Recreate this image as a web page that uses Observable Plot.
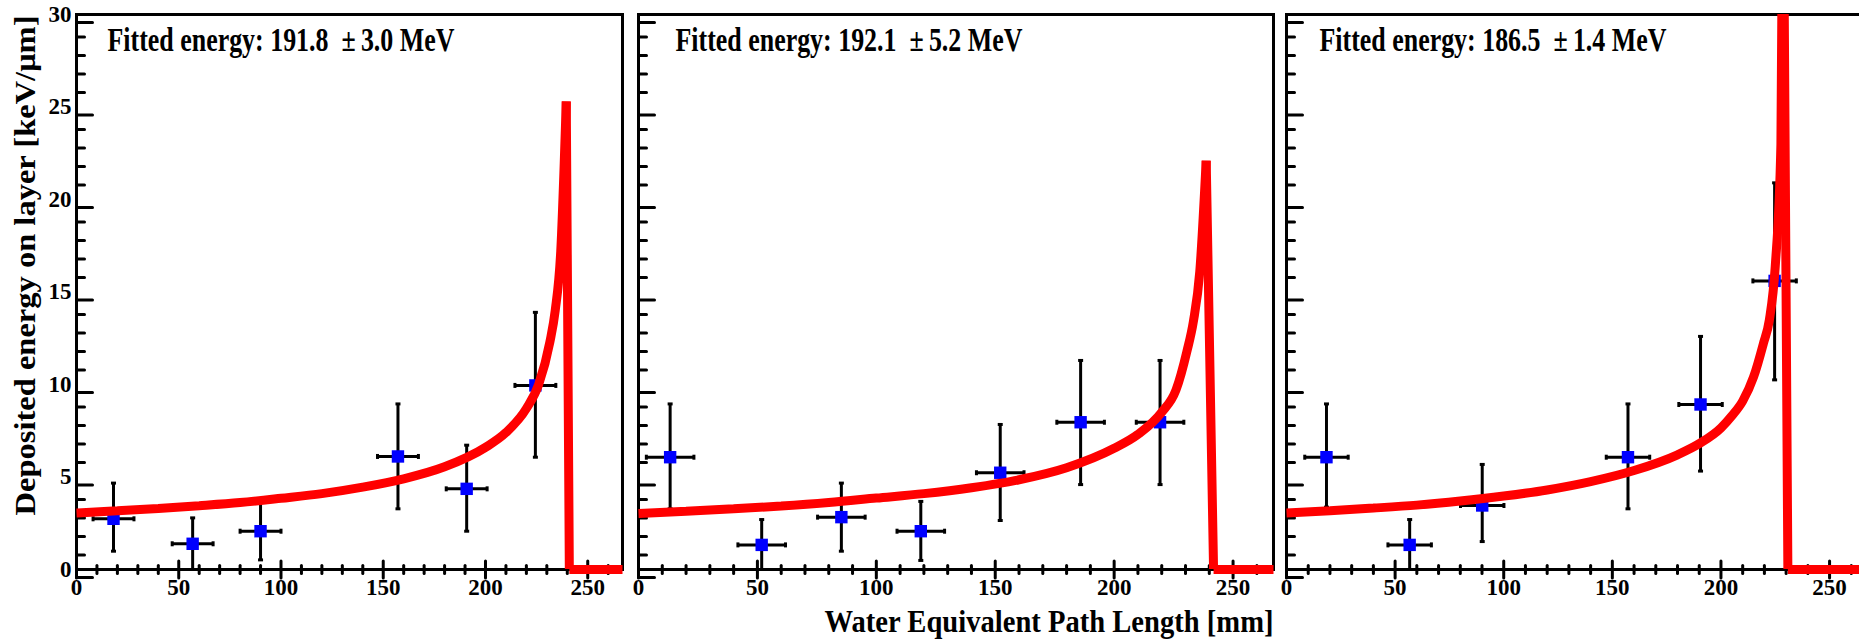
<!DOCTYPE html>
<html>
<head>
<meta charset="utf-8">
<script src="https://cdn.jsdelivr.net/npm/d3@7"></script>
<script src="https://cdn.jsdelivr.net/npm/@observablehq/plot@0.6"></script>
<style>
html, body { margin: 0; padding: 0; background: #fff; }
#chart { position: relative; width: 1859px; height: 641px; overflow: hidden; background: #fff; }
#chart svg { position: absolute; top: 0; }
</style>
</head>
<body>
<div id="chart"></div>
<script>
// ---------- tick labels ----------
const xTicks = [0, 50, 100, 150, 200, 250];
const yTicks = [0, 5, 10, 15, 20, 25, 30];
const xDomain = [0, 267];
const yDomain = [0, 30];

// ---------- titles ----------
const yTitle = "Deposited energy on layer [keV/\u03bcm]";
const xTitle = "Water Equivalent Path Length [mm]";
const panelLabels = [
  "Fitted energy: 191.8\u00a0\u00a0\u00b1\u20093.0 MeV",
  "Fitted energy: 192.1\u00a0\u00a0\u00b1\u20095.2 MeV",
  "Fitted energy: 186.5\u00a0\u00a0\u00b1\u20091.4 MeV"
];

// ---------- panel 1 data ----------
const p1X   = [18.1, 56.8, 90.0, 157.2, 190.8, 224.4];
const p1Y   = [2.74, 1.39, 2.07, 6.11, 4.36, 9.95];
const p1Lo  = [0.99, 0.0, 0.52, 3.28, 2.07, 6.07];
const p1Hi  = [4.67, 2.79, 3.62, 8.95, 6.72, 13.9];
const p1Ex  = [10, 10, 10, 10, 10, 10];
const fit1X = [0, 20, 40, 60, 80, 100, 120, 140, 160, 180, 200, 210, 220, 226, 231.5, 234.1, 236.8, 239.5, 241, 267];
const fit1Y = [3.05, 3.17, 3.3, 3.45, 3.62, 3.85, 4.1, 4.45, 4.9, 5.55, 6.6, 7.4, 8.7, 10.0, 12.3, 14.0, 17.2, 25.3, 0, 0];

// ---------- panel 2 data ----------
const p2X   = [13.3, 51.8, 85.3, 118.7, 152.1, 185.9, 219.3];
const p2Y   = [6.07, 1.33, 2.83, 2.07, 5.23, 7.96, 7.96];
const p2Lo  = [3.28, 0.0, 0.99, 0.49, 2.65, 4.59, 4.59];
const p2Hi  = [8.95, 2.7, 4.67, 3.68, 7.84, 11.3, 11.3];
const p2Ex  = [10, 10, 10, 10, 10, 10, 10];
const fit2X = [0, 20, 40, 60, 80, 100, 120, 140, 160, 180, 200, 210, 220, 226, 230.6, 233.3, 236, 238.7, 241.8, 267];
const fit2Y = [3.03, 3.15, 3.28, 3.43, 3.62, 3.86, 4.1, 4.42, 4.85, 5.5, 6.55, 7.3, 8.5, 9.7, 11.8, 13.4, 16.1, 22.1, 0, 0];

// ---------- panel 3 data ----------
const p3X   = [18.4, 56.7, 90.1, 157.2, 190.6, 224.7];
const p3Y   = [6.07, 1.33, 3.46, 6.07, 8.92, 15.6];
const p3Lo  = [3.37, 0.0, 1.51, 3.28, 5.32, 10.25];
const p3Hi  = [8.95, 2.7, 5.68, 8.95, 12.6, 20.9];
const p3Ex  = [10, 10, 10, 10, 10, 10];
const fit3X = [0, 20, 40, 60, 80, 100, 120, 140, 160, 180, 190, 200, 205, 210, 215, 219.5, 222.3, 225, 227.6, 228.6, 230.8, 267];
const fit3Y = [3.06, 3.18, 3.32, 3.48, 3.7, 3.97, 4.3, 4.75, 5.35, 6.2, 6.8, 7.65, 8.3, 9.1, 10.4, 12.2, 13.5, 16.4, 23, 40, 0, 0];

// ---------- helpers ----------
const toPts = (X, Y, Lo, Hi, Ex) => X.map((x, i) => ({x, y: Y[i], lo: Lo[i], hi: Hi[i], ex: Ex[i]}));
const toCurve = (X, Y) => X.map((x, i) => ({x, y: Y[i]}));

const xMinor = d3.range(0, 268, 10).filter(v => v % 50 !== 0);
const yMinor = d3.range(0, 31, 1).filter(v => v % 5 !== 0);

const tickRight = {draw(ctx, l) { ctx.moveTo(0, 0); ctx.lineTo(l, 0); }};
const tickUp = {draw(ctx, l) { ctx.moveTo(0, 0); ctx.lineTo(0, -l); }};
const capH = {draw(ctx, size) { const r = Math.sqrt(size / Math.PI); ctx.moveTo(-r, 0); ctx.lineTo(r, 0); }};
const capV = {draw(ctx, size) { const r = Math.sqrt(size / Math.PI); ctx.moveTo(0, -r); ctx.lineTo(0, r); }};

const FONT = "'Liberation Serif', 'Times New Roman', serif";

function panel({pts, curve, label, labelDx, width, marginLeft, marginRight, yLabels, xTitleMark}) {
  const redStyle = {x: "x", y: "y", stroke: "#ff0000", strokeWidth: 9, strokeLinejoin: "miter", strokeLinecap: "butt"};
  const peak = d3.maxIndex(curve, d => d.y);
  const rising = curve.slice(0, peak + 1);
  const falling = curve.slice(peak);
  const marks = [
    Plot.frame({stroke: "black", strokeWidth: 3}),
    Plot.vector(yMinor, {y: d => d, frameAnchor: "left", length: 8, shape: tickRight, stroke: "black", strokeWidth: 3}),
    Plot.vector(yTicks, {y: d => d, frameAnchor: "left", length: 16, shape: tickRight, stroke: "black", strokeWidth: 3}),
    Plot.vector(xMinor, {x: d => d, frameAnchor: "bottom", length: 8, shape: tickUp, stroke: "black", strokeWidth: 3}),
    Plot.vector(xTicks, {x: d => d, frameAnchor: "bottom", length: 17, shape: tickUp, stroke: "black", strokeWidth: 3}),
    Plot.axisX({ticks: xTicks, tickSize: 0, tickPadding: 9, fontSize: 23, tickFormat: d => String(d), label: null}),
    yLabels ? Plot.axisY({ticks: yTicks, tickSize: 0, tickPadding: 5, fontSize: 23, tickFormat: d => String(d), label: null}) : null,
    Plot.ruleX(pts, {x: "x", y1: "lo", y2: "hi", stroke: "black", strokeWidth: 3}),
    Plot.ruleY(pts, {y: "y", x1: d => d.x - d.ex, x2: d => d.x + d.ex, stroke: "black", strokeWidth: 3}),
    Plot.dot(pts, {x: "x", y: "lo", symbol: capH, r: 2.5, stroke: "black", strokeWidth: 3, fill: "none"}),
    Plot.dot(pts, {x: "x", y: "hi", symbol: capH, r: 2.5, stroke: "black", strokeWidth: 3, fill: "none"}),
    Plot.dot(pts, {x: d => d.x - d.ex, y: "y", symbol: capV, r: 2.5, stroke: "black", strokeWidth: 3, fill: "none"}),
    Plot.dot(pts, {x: d => d.x + d.ex, y: "y", symbol: capV, r: 2.5, stroke: "black", strokeWidth: 3, fill: "none"}),
    Plot.dot(pts, {x: "x", y: "y", symbol: "square", r: 7, fill: "#0000ff", stroke: "none"}),
    Plot.line(rising, {...redStyle, curve: "monotone-x", clip: true}),
    Plot.line(falling, {...redStyle, curve: "linear", clip: true}),
    Plot.line(curve.slice(-2), {...redStyle, curve: "linear"}),
    Plot.text([label], {text: d => d, frameAnchor: "top-left", dx: labelDx, dy: 36, lineAnchor: "bottom", textAnchor: "start", fontSize: 33, fontWeight: "bold", fill: "black"}),
    yLabels ? Plot.text([yTitle], {text: d => d, frameAnchor: "top-left", dx: -51, dy: 1, rotate: -90, textAnchor: "end", lineAnchor: "middle", fontSize: 29, fontWeight: "bold", fill: "black"}) : null,
    xTitleMark ? Plot.text([xTitle], {text: d => d, frameAnchor: "bottom-right", dy: 62, textAnchor: "end", lineAnchor: "bottom", fontSize: 31, fontWeight: "bold", fill: "black"}) : null
  ].filter(Boolean);

  const svg = Plot.plot({
    width, height: 641,
    marginLeft, marginRight, marginTop: 14, marginBottom: 72,
    x: {domain: xDomain, axis: null},
    y: {domain: yDomain, axis: null},
    style: `font-family: ${FONT}; font-weight: bold; background: transparent; overflow: visible; color: black;`,
    marks
  });
  svg.querySelectorAll("text").forEach(t => {
    const s = t.textContent;
    let len = null;
    if (s === label) len = 347;
    else if (s === yTitle) len = 500;
    else if (s === xTitle) len = 449;
    if (len) {
      t.setAttribute("textLength", len);
      t.setAttribute("lengthAdjust", "spacingAndGlyphs");
    }
  });
  return svg;
}

const chart = document.getElementById("chart");
const panels = [
  {left: 0, width: 630, marginLeft: 76, marginRight: 8, yLabels: true, labelDx: 31,
   pts: toPts(p1X, p1Y, p1Lo, p1Hi, p1Ex), curve: toCurve(fit1X, fit1Y), label: panelLabels[0]},
  {left: 630, width: 651, marginLeft: 8, marginRight: 8, yLabels: false, labelDx: 37, xTitleMark: true,
   pts: toPts(p2X, p2Y, p2Lo, p2Hi, p2Ex), curve: toCurve(fit2X, fit2Y), label: panelLabels[1]},
  {left: 1281, width: 593, marginLeft: 5, marginRight: 8, yLabels: false, labelDx: 33,
   pts: toPts(p3X, p3Y, p3Lo, p3Hi, p3Ex), curve: toCurve(fit3X, fit3Y), label: panelLabels[2]}
];
for (const p of panels) {
  const svg = panel(p);
  svg.style.left = p.left + "px";
  chart.appendChild(svg);
}
</script>
</body>
</html>
